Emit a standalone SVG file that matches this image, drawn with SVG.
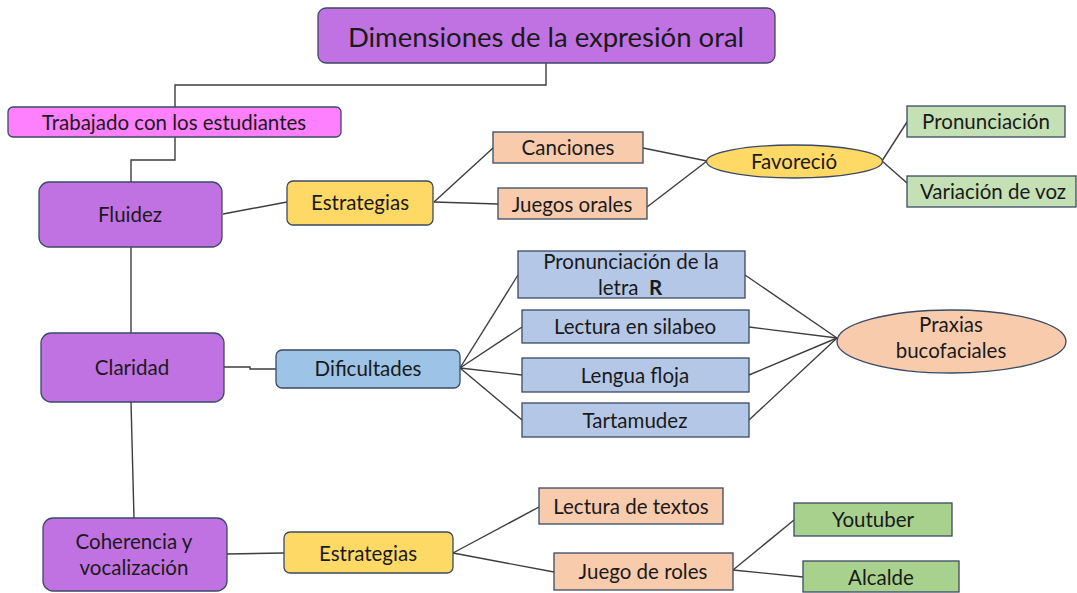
<svg xmlns="http://www.w3.org/2000/svg" width="1077" height="593" viewBox="0 0 1077 593">
<style>
.n{stroke:#3b4a63;stroke-width:1.3}
.pur{fill:#C172E2}
.pink{fill:#FF80FF}
.yel{fill:#FFD966}
.peach{fill:#F8CBAD}
.lg{fill:#C5E0B4}
.dg{fill:#A9D18E}
.blue{fill:#9DC3E6}
.lb{fill:#B4C7E7}
text{font-family:Lato,"Open Sans","Liberation Sans",sans-serif;font-size:20.5px;fill:#1a1a1a;text-anchor:middle;dominant-baseline:central}
.c{fill:none;stroke:#3d3d3d;stroke-width:1.4}
</style>
<rect width="1077" height="593" fill="#ffffff"/>
<g id="connectors">
<polyline class="c" points="546,63 546,85 175,85 175,107"/>
<polyline class="c" points="175,137 175,160 131,160 131,182"/>
<line class="c" x1="131" y1="247" x2="131" y2="333"/>
<line class="c" x1="131" y1="402" x2="134" y2="518"/>
<line class="c" x1="223" y1="214" x2="287" y2="202"/>
<line class="c" x1="434" y1="202" x2="493" y2="148"/>
<line class="c" x1="434" y1="202" x2="498" y2="204"/>
<line class="c" x1="643" y1="148" x2="707" y2="161"/>
<line class="c" x1="647" y1="207" x2="707" y2="161"/>
<line class="c" x1="882" y1="161" x2="907" y2="122"/>
<line class="c" x1="882" y1="161" x2="907" y2="183"/>
<polyline class="c" points="224,367 250,367 250,369 276,369"/>
<line class="c" x1="460" y1="368" x2="518" y2="275"/>
<line class="c" x1="460" y1="368" x2="522" y2="327"/>
<line class="c" x1="460" y1="368" x2="522" y2="375"/>
<line class="c" x1="460" y1="368" x2="522" y2="420"/>
<line class="c" x1="745" y1="275" x2="837" y2="338"/>
<line class="c" x1="749" y1="327" x2="837" y2="338"/>
<line class="c" x1="749" y1="375" x2="837" y2="338"/>
<line class="c" x1="749" y1="420" x2="837" y2="338"/>
<line class="c" x1="227" y1="554" x2="284" y2="553"/>
<line class="c" x1="453" y1="553" x2="539" y2="507"/>
<line class="c" x1="453" y1="553" x2="554" y2="572"/>
<line class="c" x1="733" y1="570" x2="794" y2="520"/>
<line class="c" x1="733" y1="570" x2="803" y2="577"/>
</g>
<g id="title"><rect class="n pur" x="318" y="8" width="457" height="55" rx="8"/><text x="546" y="36" style="font-size:27.5px">Dimensiones de la expresión oral</text></g>
<g id="trabajado"><rect class="n pink" x="8" y="107" width="333" height="30" rx="5"/><text x="174" y="122">Trabajado con los estudiantes</text></g>
<g id="fluidez"><rect class="n pur" x="39" y="182" width="183" height="65" rx="10"/><text x="130" y="214">Fluidez</text></g>
<g id="estrategias1"><rect class="n yel" x="287" y="181" width="146" height="44" rx="6"/><text x="360" y="202">Estrategias</text></g>
<g id="canciones"><rect class="n peach" x="493" y="132" width="150" height="31"/><text x="568" y="147">Canciones</text></g>
<g id="juegos-orales"><rect class="n peach" x="498" y="188" width="149" height="31"/><text x="572" y="204">Juegos orales</text></g>
<g id="favorecio"><ellipse class="n yel" cx="794.5" cy="161.5" rx="88" ry="16.5"/><text x="794" y="161">Favoreció</text></g>
<g id="pronunciacion"><rect class="n lg" x="907" y="106" width="158" height="31"/><text x="986" y="121">Pronunciación</text></g>
<g id="variacion"><rect class="n lg" x="907" y="176" width="169" height="31"/><text x="993" y="191">Variación de voz</text></g>
<g id="claridad"><rect class="n pur" x="41" y="333" width="183" height="69" rx="10"/><text x="132" y="367">Claridad</text></g>
<g id="dificultades"><rect class="n blue" x="276" y="350" width="184" height="38" rx="6"/><text x="368" y="368">Dificultades</text></g>
<g id="pron-r"><rect class="n lb" x="518" y="251" width="227" height="47"/><text x="631" y="261">Pronunciación de la</text><text x="630" y="287" xml:space="preserve">letra  <tspan font-weight="bold">R</tspan></text></g>
<g id="silabeo"><rect class="n lb" x="522" y="310" width="227" height="33"/><text x="635" y="326">Lectura en silabeo</text></g>
<g id="lengua"><rect class="n lb" x="522" y="358" width="227" height="34"/><text x="635" y="375">Lengua floja</text></g>
<g id="tartamudez"><rect class="n lb" x="522" y="403" width="227" height="34"/><text x="635" y="420">Tartamudez</text></g>
<g id="praxias"><ellipse class="n peach" cx="951.5" cy="341.5" rx="114.5" ry="31.5"/><text x="951" y="324">Praxias</text><text x="951" y="350">bucofaciales</text></g>
<g id="coherencia"><rect class="n pur" x="43" y="518" width="184" height="73" rx="10"/><text x="134" y="541">Coherencia y</text><text x="134" y="567">vocalización</text></g>
<g id="estrategias2"><rect class="n yel" x="284" y="532" width="169" height="41" rx="6"/><text x="368" y="553">Estrategias</text></g>
<g id="lectura-textos"><rect class="n peach" x="539" y="488" width="184" height="36"/><text x="631" y="506">Lectura de textos</text></g>
<g id="juego-roles"><rect class="n peach" x="554" y="553" width="179" height="37"/><text x="643" y="571">Juego de roles</text></g>
<g id="youtuber"><rect class="n dg" x="794" y="503" width="158" height="33"/><text x="873" y="519">Youtuber</text></g>
<g id="alcalde"><rect class="n dg" x="803" y="561" width="156" height="31"/><text x="881" y="577">Alcalde</text></g>
</svg>
